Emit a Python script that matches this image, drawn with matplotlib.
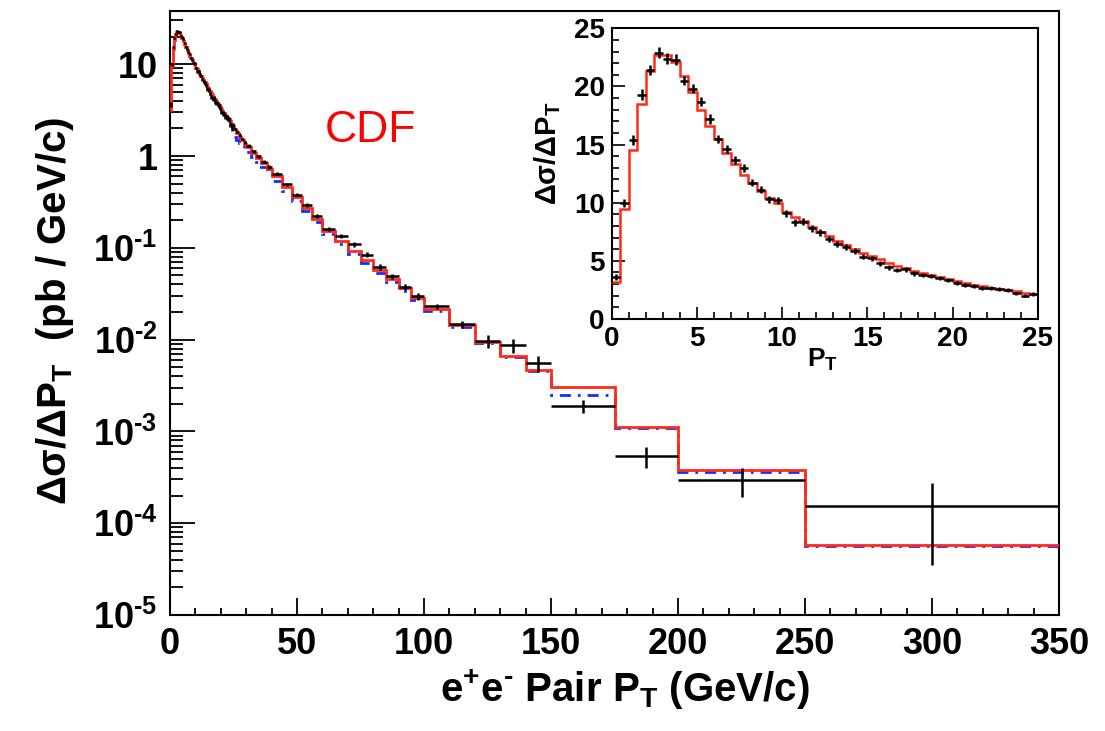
import numpy as np
import matplotlib
matplotlib.use("Agg")
import matplotlib.pyplot as plt
from matplotlib.ticker import FixedLocator, MultipleLocator, LogLocator, NullFormatter

plt.rcParams['font.family'] = ['Liberation Sans', 'DejaVu Sans']
plt.rcParams['font.weight'] = 'bold'
plt.rcParams['mathtext.fontset'] = 'custom'
plt.rcParams['mathtext.rm'] = 'Liberation Sans:bold'
plt.rcParams['mathtext.bf'] = 'Liberation Sans:bold'
plt.rcParams['mathtext.it'] = 'Liberation Sans:bold'
plt.rcParams['mathtext.default'] = 'bf'

HY = '\u2010'  # short hyphen used for negative exponents

# ---- fine binning (0.5 GeV/c, 0-25 GeV/c) ----
fine_edges = [0.5 * i for i in range(51)]
data_fine = [3.64, 10.0, 15.4, 19.3, 21.4, 22.9, 22.4, 22.3, 20.5, 19.8,
             18.7, 17.2, 15.5, 14.6, 13.7, 13.0, 11.7, 11.1, 10.3, 10.2,
             9.08, 8.31, 8.37, 7.79, 7.45, 6.85, 6.45, 6.22, 5.87, 5.36,
             5.21, 4.79, 4.44, 4.21, 4.27, 3.93, 3.78, 3.72, 3.55, 3.35,
             3.07, 2.92, 2.87, 2.69, 2.64, 2.58, 2.49, 2.21, 2.01, 2.15]
err_fine = [0.25, 0.35, 0.40, 0.45, 0.45, 0.45, 0.45, 0.45, 0.40, 0.40,
            0.40, 0.40, 0.35, 0.35, 0.35, 0.35, 0.30, 0.30, 0.30, 0.30,
            0.30, 0.28, 0.28, 0.27, 0.27, 0.25, 0.25, 0.25, 0.24, 0.23,
            0.23, 0.22, 0.21, 0.21, 0.21, 0.20, 0.20, 0.19, 0.19, 0.18,
            0.18, 0.17, 0.17, 0.17, 0.16, 0.16, 0.16, 0.15, 0.15, 0.15]
resbos_fine = [3.15, 9.46, 14.5, 18.5, 21.3, 22.7, 22.7, 22.1, 20.9, 19.5,
               18.0, 16.6, 15.5, 14.3, 13.3, 12.4, 11.7, 11.0, 10.4, 9.94,
               9.2, 8.8, 8.4, 7.9, 7.5, 7.1, 6.75, 6.4, 6.05, 5.7,
               5.45, 5.15, 4.85, 4.6, 4.35, 4.15, 3.95, 3.75, 3.6, 3.45,
               3.25, 3.1, 2.95, 2.8, 2.7, 2.6, 2.5, 2.4, 2.25, 2.15]

# ---- coarse binning (25-350 GeV/c) ----
coarse_edges = [25, 26, 27, 28, 29, 30, 32, 34, 36, 38, 40, 44, 48, 52, 56, 60,
                65, 70, 75, 80, 85, 90, 95, 100, 110, 120, 130, 140, 150,
                175, 200, 250, 350]
data_coarse = [1.98, 1.84, 1.68, 1.53, 1.41, 1.30, 1.13, 0.99, 0.87, 0.76,
               0.64, 0.49, 0.38, 0.29, 0.22,
               0.161, 0.134, 0.109, 0.0845, 0.062, 0.049, 0.0377, 0.0298,
               0.0232, 0.0147, 0.00966, 0.00867, 0.00552,
               0.00188, 0.00054, 0.000295, 0.000155]
err_coarse = [0.06, 0.06, 0.05, 0.05, 0.05, 0.04, 0.04, 0.035, 0.03, 0.03,
              0.025, 0.02, 0.017, 0.014, 0.011,
              0.008, 0.007, 0.006, 0.005, 0.004, 0.0035, 0.003, 0.0026,
              0.0015, 0.0012, 0.0015, 0.0015, 0.0011,
              0.0003, 0.00014, 0.0001, 0.00012]
resbos_coarse = [1.95, 1.80, 1.62, 1.48, 1.36, 1.25, 1.08, 0.95, 0.83, 0.72,
                 0.60, 0.46, 0.355, 0.27, 0.205,
                 0.151, 0.118, 0.0918, 0.0733, 0.057, 0.0452, 0.0361, 0.0286,
                 0.0217, 0.0143, 0.0094, 0.00664, 0.00467,
                 0.00303, 0.00111, 0.00038, 5.8e-5]
pert_coarse = [1.62, 1.50, 1.40, 1.30, 1.22, 1.12, 0.97, 0.85, 0.75, 0.65,
               0.54, 0.42, 0.325, 0.25, 0.19,
               0.140, 0.110, 0.086, 0.068, 0.053, 0.042, 0.0337, 0.0268,
               0.0207, 0.0138, 0.0091, 0.0064, 0.0045,
               0.00248, 0.00108, 0.00036, 5.6e-5]

y_ticks = [1e-5, 1e-4, 1e-3, 1e-2, 1e-1, 1, 10]
y_ticklabels = ['10$^{%s5}$' % HY, '10$^{%s4}$' % HY, '10$^{%s3}$' % HY,
                '10$^{%s2}$' % HY, '10$^{%s1}$' % HY, '1', '10']

# ---- assemble full binning for the main panel ----
edges = np.array(fine_edges + coarse_edges[1:], dtype=float)
data = np.array(data_fine + data_coarse)
err = np.array(err_fine + err_coarse)
resbos = np.array(resbos_fine + resbos_coarse)
centers = 0.5 * (edges[:-1] + edges[1:])
halfw = 0.5 * (edges[1:] - edges[:-1])

W, H = 1105, 731
fig = plt.figure(figsize=(W / 100, H / 100), dpi=100)

ax = fig.add_axes([170 / W, 1 - 615 / H, 889 / W, 604 / H])
ax.set_yscale('log')
ax.set_xlim(0, 350)
ax.set_ylim(1e-5, 38)

ax.stairs(pert_coarse, coarse_edges, baseline=None, color='#1030ff', lw=2.0,
          linestyle=(0, (4, 2.5, 1, 2.5)), zorder=2)
ax.stairs(resbos, edges, baseline=None, color='#ff2a1a', lw=2.0, zorder=3)
ax.errorbar(centers, data, yerr=err, xerr=halfw, fmt='none', ecolor='black',
            elinewidth=1.8, capsize=0, zorder=4)

ax.yaxis.set_major_locator(FixedLocator(y_ticks))
ax.set_yticklabels(y_ticklabels)
ax.yaxis.set_minor_locator(LogLocator(base=10, subs=np.arange(2, 10)))
ax.yaxis.set_minor_formatter(NullFormatter())
ax.xaxis.set_major_locator(MultipleLocator(50))
ax.xaxis.set_minor_locator(MultipleLocator(10))
ax.tick_params(axis='y', which='major', direction='in', length=18, width=1.3,
               labelsize=26, pad=9)
ax.tick_params(axis='y', which='minor', direction='in', length=9, width=1.3)
ax.tick_params(axis='x', which='major', direction='in', length=12, width=1.3,
               labelsize=26, pad=9)
ax.tick_params(axis='x', which='minor', direction='in', length=5, width=1.3)
for s in ax.spines.values():
    s.set_linewidth(1.5)

fig.text(625 / W, 1 - 690 / H, r'e$^{+}$e$^{%s}$ Pair P$_{T}$ (GeV/c)' % HY,
         fontsize=29, fontweight='bold', ha='center', va='center')
fig.text(55 / W, 1 - 311 / H, r'$\Delta\sigma$/$\Delta$P$_{T}$  (pb / GeV/c)',
         fontsize=29, fontweight='bold', ha='center', va='center', rotation=90)
fig.text(370 / W, 1 - 130 / H, 'CDF', color='red', fontsize=32,
         fontweight='normal', ha='center', va='center')

# ---- inset: linear view of the low-pT region ----
ins = fig.add_axes([611.7 / W, 1 - 319 / H, 426 / W, 290.7 / H])
ins.set_xlim(0, 25)
ins.set_ylim(0, 25)
ins.stairs(resbos_fine, fine_edges, baseline=None, color='#ff2a1a', lw=1.8,
           zorder=3)
fc = 0.5 * (np.array(fine_edges[:-1]) + np.array(fine_edges[1:]))
ins.errorbar(fc, data_fine, yerr=err_fine, xerr=0.25, fmt='none',
             ecolor='black', elinewidth=1.8, capsize=0, zorder=4)
ins.xaxis.set_major_locator(MultipleLocator(5))
ins.xaxis.set_minor_locator(MultipleLocator(1))
ins.yaxis.set_major_locator(MultipleLocator(5))
ins.yaxis.set_minor_locator(MultipleLocator(1))
ins.tick_params(which='major', direction='in', length=9, width=1.2,
                labelsize=20, pad=5)
ins.tick_params(which='minor', direction='in', length=5, width=1.2)
for s in ins.spines.values():
    s.set_linewidth(1.5)
fig.text(822 / W, 1 - 360 / H, r'P$_{T}$', fontsize=19, fontweight='bold',
         ha='center', va='center')
fig.text(548 / W, 1 - 153 / H, r'$\Delta\sigma$/$\Delta$P$_{T}$', fontsize=21,
         fontweight='bold', ha='center', va='center', rotation=90)

fig.savefig('out.png', dpi=100)
